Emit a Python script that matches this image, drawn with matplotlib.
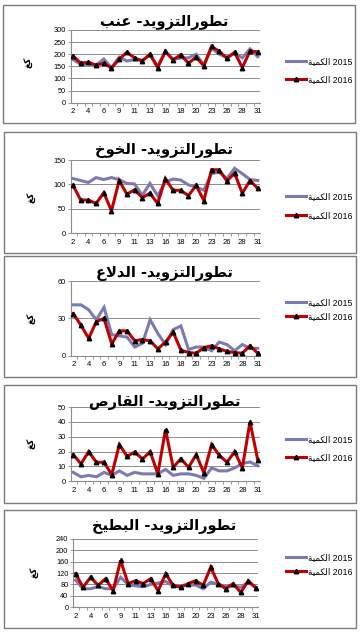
import matplotlib
matplotlib.use("Agg")
import matplotlib.pyplot as plt
from matplotlib.patches import Rectangle
from matplotlib.ticker import FixedLocator

# ---------------- data ----------------
days = [2, 3, 4, 5, 6, 7, 9, 10, 11, 12, 13, 14, 16, 17, 18, 19, 20, 21, 23, 24, 26, 27, 28, 30, 31]

titles = ["تطورالتزويد- عنب", "تطورالتزويد- الخوخ", "تطورالتزويد- الدلاع",
          "تطورالتزويد- القارص", "تطورالتزويد- البطيخ"]

grape_2015 = [178, 158, 160, 155, 180, 145, 188, 172, 178, 175, 198, 150, 210, 178, 185, 185, 200, 155, 225, 200, 188, 205, 185, 222, 190]
grape_2016 = [193, 163, 167, 155, 163, 143, 180, 208, 185, 172, 200, 145, 212, 177, 198, 163, 188, 152, 232, 212, 183, 208, 145, 213, 210]

peach_2015 = [112, 108, 104, 114, 110, 114, 110, 102, 101, 78, 102, 77, 105, 111, 109, 99, 95, 88, 122, 125, 112, 133, 122, 110, 108]
peach_2016 = [98, 68, 68, 61, 83, 46, 108, 80, 89, 73, 82, 61, 112, 88, 88, 77, 98, 67, 130, 130, 107, 123, 82, 108, 92]

melon_2015 = [41, 41, 37, 29, 39, 17, 16, 15, 7, 10, 29, 18, 9, 21, 24, 5, 7, 7, 4, 11, 9, 4, 9, 6, 6]
melon_2016 = [34, 24.5, 14, 27.5, 30, 9.5, 20, 20, 12, 13, 12, 5.5, 11, 19, 4.5, 2.5, 2, 6.5, 8, 5.5, 3.5, 2.5, 2, 8, 2]

qaras_2015 = [6, 3, 4, 3, 6, 4, 7, 4, 6, 5, 5, 5, 8, 4, 5, 5, 4, 2, 9, 7, 7, 9, 12, 13, 10.5]
qaras_2016 = [18, 11.7, 20, 12.8, 12.8, 4.5, 24.7, 16.8, 19.7, 15, 20, 5, 34.8, 9.4, 15.2, 9.4, 18, 5.6, 24.7, 17.5, 12.8, 20, 9, 40, 14.6]

water_2015 = [95, 65, 65, 72, 65, 65, 105, 80, 75, 72, 80, 85, 90, 75, 75, 78, 78, 65, 88, 80, 72, 75, 70, 88, 70]
water_2016 = [118, 70, 105, 77, 100, 58, 164, 83, 93, 83, 100, 58, 117, 77, 70, 83, 93, 77, 140, 83, 65, 83, 52, 93, 68]

series_2015 = [grape_2015, peach_2015, melon_2015, qaras_2015, water_2015]
series_2016 = [grape_2016, peach_2016, melon_2016, qaras_2016, water_2016]
yticks = [[0, 50, 100, 150, 200, 250, 300], [0, 50, 100, 150], [0, 30, 60],
          [0, 10, 20, 30, 40, 50], [0, 40, 80, 120, 160, 200, 240]]
legend_word = "الكمية"
ylabel_word = "كغ"
years = ["2015", "2016"]

# ---------------- simple Arabic shaping ----------------
FORMS = {  # isolated, final, initial, medial
    'ا': (0xFE8D, 0xFE8E, None, None),
    'ب': (0xFE8F, 0xFE90, 0xFE91, 0xFE92),
    'ة': (0xFE93, 0xFE94, None, None),
    'ت': (0xFE95, 0xFE96, 0xFE97, 0xFE98),
    'خ': (0xFEA5, 0xFEA6, 0xFEA7, 0xFEA8),
    'د': (0xFEA9, 0xFEAA, None, None),
    'ر': (0xFEAD, 0xFEAE, None, None),
    'ز': (0xFEAF, 0xFEB0, None, None),
    'ص': (0xFEB9, 0xFEBA, 0xFEBB, 0xFEBC),
    'ط': (0xFEC1, 0xFEC2, 0xFEC3, 0xFEC4),
    'ع': (0xFEC9, 0xFECA, 0xFECB, 0xFECC),
    'غ': (0xFECD, 0xFECE, 0xFECF, 0xFED0),
    'ق': (0xFED5, 0xFED6, 0xFED7, 0xFED8),
    'ك': (0xFED9, 0xFEDA, 0xFEDB, 0xFEDC),
    'ل': (0xFEDD, 0xFEDE, 0xFEDF, 0xFEE0),
    'م': (0xFEE1, 0xFEE2, 0xFEE3, 0xFEE4),
    'ن': (0xFEE5, 0xFEE6, 0xFEE7, 0xFEE8),
    'و': (0xFEED, 0xFEEE, None, None),
    'ي': (0xFEF1, 0xFEF2, 0xFEF3, 0xFEF4),
}


def dual(c):
    return c in FORMS and FORMS[c][2] is not None


def shape(text):
    out = []
    i = 0
    prev_joins = False
    while i < len(text):
        c = text[i]
        if c not in FORMS:
            out.append(c)
            prev_joins = False
            i += 1
            continue
        if c == 'ل' and i + 1 < len(text) and text[i + 1] == 'ا':
            out.append(chr(0xFEFC if prev_joins else 0xFEFB))
            prev_joins = False
            i += 2
            continue
        nxt = text[i + 1] if i + 1 < len(text) else ''
        join_next = dual(c) and nxt in FORMS
        f = FORMS[c]
        if prev_joins and join_next:
            g = f[3]
        elif prev_joins:
            g = f[1]
        elif join_next:
            g = f[2]
        else:
            g = f[0]
        out.append(chr(g))
        prev_joins = dual(c)
        i += 1
    return out


def visual(text):
    return "".join(reversed(shape(text)))


# ---------------- layout ----------------
W, H = 361, 633
fig = plt.figure(figsize=(W / 100, H / 100), dpi=100)
fig.patch.set_facecolor("white")

frames = [(3, 5, 355, 123), (4, 132, 356, 253), (4, 256, 356, 377),
          (4, 385, 356, 503), (4, 510, 356, 628)]
axes_px = [(70.7, 30, 260, 102.7), (70.7, 160, 260, 233.3), (71, 281.3, 260, 355.7),
           (71, 407, 260, 481.3), (73.3, 538.7, 258, 607.3)]
title_y = [22, 150, 274, 403, 527]
legend_y = [(62, 80), (197, 216), (303, 317), (440, 458), (558, 572)]
ylabel_xy = [(29, 62), (32, 197), (32, 318), (32, 443), (35, 572)]

c2015 = "#7b7bb3"
c2016 = "#c00000"
grid_c = "#8c8c8c"
num_family = ["Liberation Sans", "DejaVu Sans"]

x = list(range(len(days)))

for k in range(5):
    fx0, fy0, fx1, fy1 = frames[k]
    fig.patches.append(Rectangle((fx0 / W, 1 - fy1 / H), (fx1 - fx0) / W, (fy1 - fy0) / H,
                                 transform=fig.transFigure, fill=False,
                                 edgecolor="#7a7a7a", linewidth=1.0))
    l, t, r, b = axes_px[k]
    ax = fig.add_axes([l / W, 1 - b / H, (r - l) / W, (b - t) / H])
    ax.set_facecolor("none")
    l1, = ax.plot(x, series_2015[k], color=c2015, lw=2.2, solid_joinstyle="miter", zorder=3)
    l2, = ax.plot(x, series_2016[k], color=c2016, lw=2.2, marker="^", ms=3.2,
                  mfc="black", mec="black", solid_joinstyle="miter", zorder=4)
    yt = yticks[k]
    ax.set_ylim(yt[0], yt[-1])
    ax.set_yticks(yt)
    ax.set_xlim(-0.3, len(days) - 0.7)
    ax.set_xticks(x[::2])
    ax.set_xticklabels([str(d) for d in days[::2]])
    ax.xaxis.set_minor_locator(FixedLocator([i + 0.5 for i in range(-1, len(days))]))
    ax.tick_params(axis="x", which="major", length=0, pad=4, labelsize=5.5)
    ax.tick_params(axis="x", which="minor", length=2.5, width=0.6, color=grid_c)
    ax.tick_params(axis="y", length=2, width=0.6, color=grid_c, pad=1.5, labelsize=5.3)
    for lab in ax.get_xticklabels() + ax.get_yticklabels():
        lab.set_fontfamily("Liberation Sans")
    ax.grid(axis="y", color=grid_c, lw=0.7)
    ax.set_axisbelow(True)
    for s in ("top", "right"):
        ax.spines[s].set_visible(False)
    for s in ("left", "bottom"):
        ax.spines[s].set_color(grid_c)
        ax.spines[s].set_linewidth(0.8)

    fig.text(((l + r) / 2 - 1) / W, 1 - title_y[k] / H, visual(titles[k]), ha="center",
             va="center", fontsize=10.5, fontweight="bold", family="DejaVu Sans")
    yx, yy = ylabel_xy[k]
    fig.text(yx / W, 1 - yy / H, visual(ylabel_word), rotation=90, ha="center", va="center",
             fontsize=6.5, fontweight="bold", family="DejaVu Sans")

    lab15 = visual(legend_word) + " " + years[0]
    lab16 = visual(legend_word) + " " + years[1]
    y15, y16 = legend_y[k]
    leg1 = ax.legend([l1], [lab15], loc="center left", bbox_to_anchor=(286 / W, 1 - y15 / H),
                     bbox_transform=fig.transFigure, frameon=False,
                     handlelength=2.3, handletextpad=0.2, borderpad=0, borderaxespad=0,
                     prop={"family": num_family, "size": 6.3})
    ax.add_artist(leg1)
    ax.legend([l2], [lab16], loc="center left", bbox_to_anchor=(286 / W, 1 - y16 / H),
              bbox_transform=fig.transFigure, frameon=False,
              handlelength=2.3, handletextpad=0.2, borderpad=0, borderaxespad=0,
              prop={"family": num_family, "size": 6.3})

fig.savefig("out.png", dpi=100, facecolor="white")
